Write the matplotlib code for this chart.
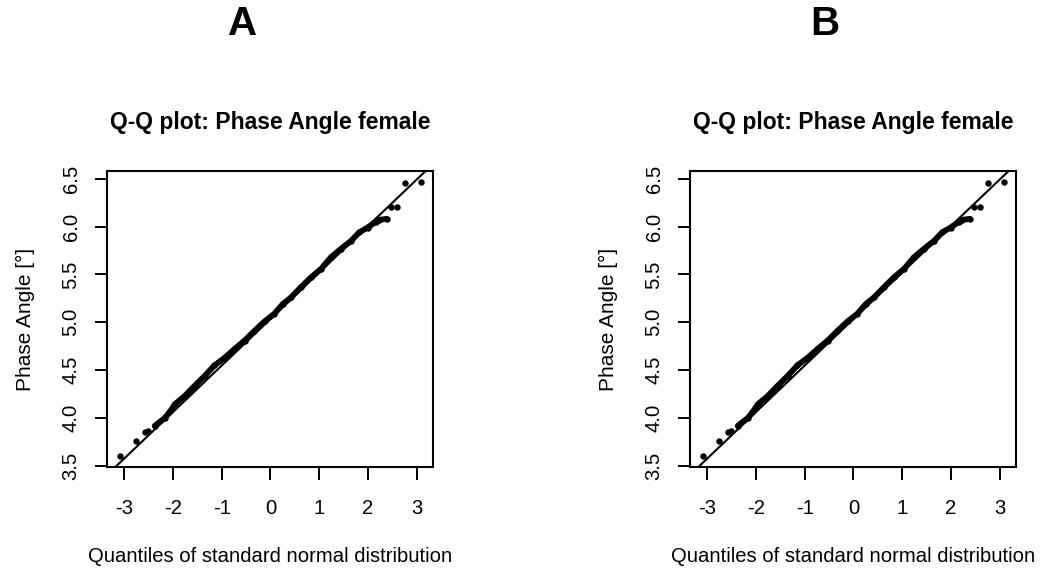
import matplotlib
matplotlib.use("Agg")
import matplotlib.pyplot as plt

plt.rcParams['font.family'] = ['Liberation Sans', 'DejaVu Sans']

# Q-Q values (both panels show the same sample)
theo_quantiles = [-3.09, -2.75, -2.58, -2.50,
                  -2.37, -2.17, -2.07, -1.96, -1.76, -1.55, -1.35, -1.15, -0.94,
                  -0.74, -0.53, -0.33, -0.12, 0.08, 0.25, 0.42, 0.63, 0.83, 1.04,
                  1.24, 1.45, 1.65, 1.82, 1.99, 2.16, 2.22, 2.38,
                  2.47, 2.59, 2.75, 3.08]
phase_angle = [3.60, 3.76, 3.855, 3.87,
               3.92, 4.00, 4.06, 4.145, 4.23, 4.34, 4.44, 4.55, 4.63,
               4.72, 4.81, 4.91, 5.01, 5.09, 5.19, 5.26, 5.37, 5.47, 5.56,
               5.68, 5.77, 5.85, 5.94, 5.99, 6.05, 6.07, 6.08,
               6.20, 6.20, 6.45, 6.47]
dense_start, dense_end = 4, 31   # points so close they merge into a band

qq_intercept = 5.035
qq_slope = 0.486

panel_letters = ['A', 'B']
panel_title = 'Q-Q plot: Phase Angle female'
x_label = 'Quantiles of standard normal distribution'
y_label = 'Phase Angle [°]'
x_ticks = [-3, -2, -1, 0, 1, 2, 3]
y_ticks = [3.5, 4.0, 4.5, 5.0, 5.5, 6.0, 6.5]


def crear_panel(ax):
    xs = theo_quantiles[dense_start:dense_end]
    ys = phase_angle[dense_start:dense_end]
    ax.plot(xs, ys, color='black', lw=4.2, solid_capstyle='round', zorder=3)
    ax.plot(theo_quantiles, phase_angle, 'o', color='black', ms=3.6, zorder=3)
    ax.axline((0, qq_intercept), slope=qq_slope, color='black', lw=1.5, zorder=2)

    ax.set_xlim(-3.35, 3.33)
    ax.set_ylim(3.49, 6.58)
    ax.set_xticks(x_ticks)
    ax.set_xticklabels([str(t) for t in x_ticks])
    ax.set_yticks(y_ticks)
    ax.set_yticklabels([f'{t:.1f}' for t in y_ticks])

    ax.tick_params(axis='both', direction='out', length=9, width=1.4,
                   labelsize=14.6, color='black')
    ax.tick_params(axis='x', pad=14)
    ax.tick_params(axis='y', pad=10, labelrotation=90)
    for lab in ax.get_yticklabels():
        lab.set_va('center')

    for sp in ax.spines.values():
        sp.set_linewidth(1.5)

    ax.set_title(panel_title, fontsize=16.5, fontweight='bold', pad=30)
    ax.set_xlabel(x_label, fontsize=14.6, labelpad=21)
    ax.set_ylabel(y_label, fontsize=15, labelpad=19)


def graficar():
    fig = plt.figure(figsize=(10.46, 5.75), dpi=100)
    lefts = [107 / 1046, 690 / 1046]
    letter_x = [243 / 1046, 825 / 1046]
    for i, letra in enumerate(panel_letters):
        ax = fig.add_axes([lefts[i], 1 - 467 / 575, 326 / 1046, 296 / 575])
        crear_panel(ax)
        fig.text(letter_x[i], 1 - 24 / 575, letra, fontsize=29,
                 fontweight='bold', ha='center', va='center')
    fig.savefig('out.png', dpi=100)
    plt.close(fig)


if __name__ == "__main__":
    graficar()
